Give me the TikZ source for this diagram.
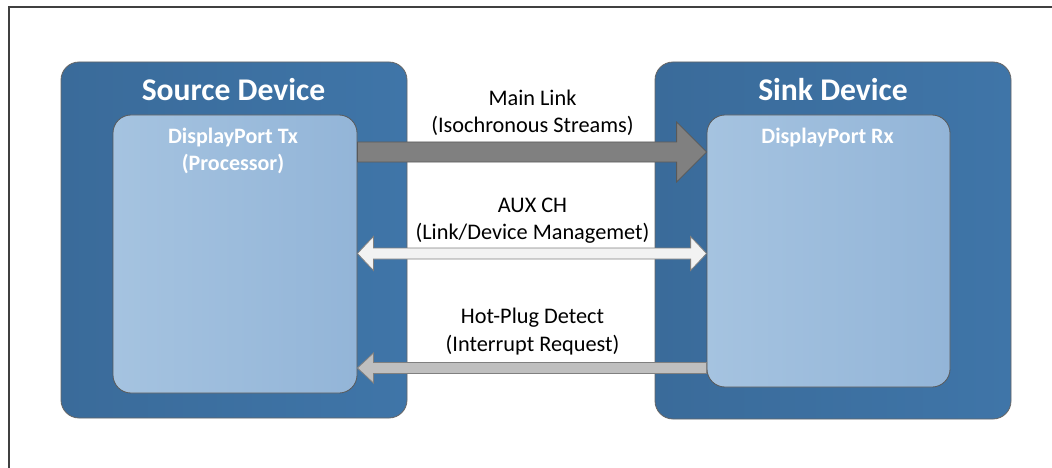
\documentclass[tikz,border=0pt]{standalone}
\usepackage{fontspec}
\setmainfont{Carlito}
\usepackage{tikz}
\usetikzlibrary{calc}

\definecolor{devdark}{HTML}{35628D}
\definecolor{devleft}{HTML}{3A6B9A}
\definecolor{devright}{HTML}{3F75A8}
\definecolor{portleft}{HTML}{A5C3E0}
\definecolor{portright}{HTML}{93B5D8}

\tikzset{
  devicebox/.style={rectangle,rounded corners=18pt,inner sep=0pt,draw=gray!80!black,line width=0.8pt,left color=devleft,middle color=devdark,right color=devright},
  portbox/.style={rectangle,rounded corners=18pt,inner sep=0pt,draw=black!65,line width=0.8pt,left color=portleft,right color=portright},
  devtitle/.style={anchor=base,inner sep=0pt,text=white,font=\fontsize{31.6}{36}\selectfont\bfseries},
  porttext/.style={anchor=base,inner sep=0pt,text=white,font=\fontsize{22}{27}\selectfont\bfseries},
  linktext/.style={anchor=base,inner sep=0pt,text=black,font=\fontsize{22.3}{27}\selectfont},
  mainlink/.style={draw=black!65,fill=black!50,line width=0.8pt,line join=miter},
  auxlink/.style={draw=black!50,fill=black!5,line width=0.8pt,line join=miter},
  hpdlink/.style={draw=black!50,fill=black!25,line width=0.8pt,line join=miter},
  frameline/.style={draw=black!75,line width=2pt}
}

\begin{document}
\begin{tikzpicture}[x=1pt,y=-1pt]
		\useasboundingbox (0,0) rectangle (1052,468);
		\draw[frameline] (9,470) |- (1054,7.5);

		\node[devicebox,minimum width=346pt,minimum height=356pt] (src) at (234,240) {};
		\node[devicebox,minimum width=356pt,minimum height=357pt] (snk) at (833,240.5) {};
		\node[portbox,minimum width=244pt,minimum height=278pt] (tx) at (235,254) {};
		\node[portbox,minimum width=243pt,minimum height=272pt] (rx) at (828.5,251) {};

		\node[devtitle] (srctitle) at (233.5,100.5) {Source Device};
		\node[devtitle] (snktitle) at (833,100.5) {Sink Device};

		\node[porttext] (txname) at (233,144) {DisplayPort Tx};
		\node[porttext] (txrole) at (233,171) {(Processor)};
		\node[porttext] (rxname) at (827.5,143) {DisplayPort Rx};

		\node[linktext] (mainname) at (532.5,106) {Main Link};
		\node[linktext] (mainnote) at (532.5,132) {(Isochronous Streams)};
		\node[linktext] (auxname) at (532.5,212) {AUX CH};
		\node[linktext] (auxnote) at (532.5,239.3) {(Link/Device Managemet)};
		\node[linktext] (hpdname) at (532.5,323.3) {Hot-Plug Detect};
		\node[linktext] (hpdnote) at (532.5,351) {(Interrupt Request)};

		\coordinate (ml-a) at (tx.east |- 0,152);
		\coordinate (ml-b) at (rx.west |- 0,152);
		\coordinate (aux-a) at (tx.east |- 0,253.5);
		\coordinate (aux-b) at (rx.west |- 0,253.5);
		\coordinate (hpd-a) at (rx.west |- 0,368);
		\coordinate (hpd-b) at (tx.east |- 0,368);

		\draw[mainlink] ($(ml-a)+(0,-10)$) -- ($(ml-b)+(-30,-10)$) -- ($(ml-b)+(-30,-30)$) -- (ml-b)
			-- ($(ml-b)+(-30,30)$) -- ($(ml-b)+(-30,10)$) -- ($(ml-a)+(0,10)$) -- cycle;
		\draw[auxlink] (aux-a) -- ($(aux-a)+(16,-17)$) -- ($(aux-a)+(16,-5.5)$) -- ($(aux-b)+(-16,-5.5)$)
			-- ($(aux-b)+(-16,-17)$) -- (aux-b) -- ($(aux-b)+(-16,17)$) -- ($(aux-b)+(-16,5.5)$)
			-- ($(aux-a)+(16,5.5)$) -- ($(aux-a)+(16,17)$) -- cycle;
		\draw[hpdlink] ($(hpd-a)+(0,-5.5)$) -- ($(hpd-b)+(16,-5.5)$) -- ($(hpd-b)+(16,-15)$) -- (hpd-b)
			-- ($(hpd-b)+(16,15)$) -- ($(hpd-b)+(16,5.5)$) -- ($(hpd-a)+(0,5.5)$) -- cycle;
	\end{tikzpicture}
\end{document}
